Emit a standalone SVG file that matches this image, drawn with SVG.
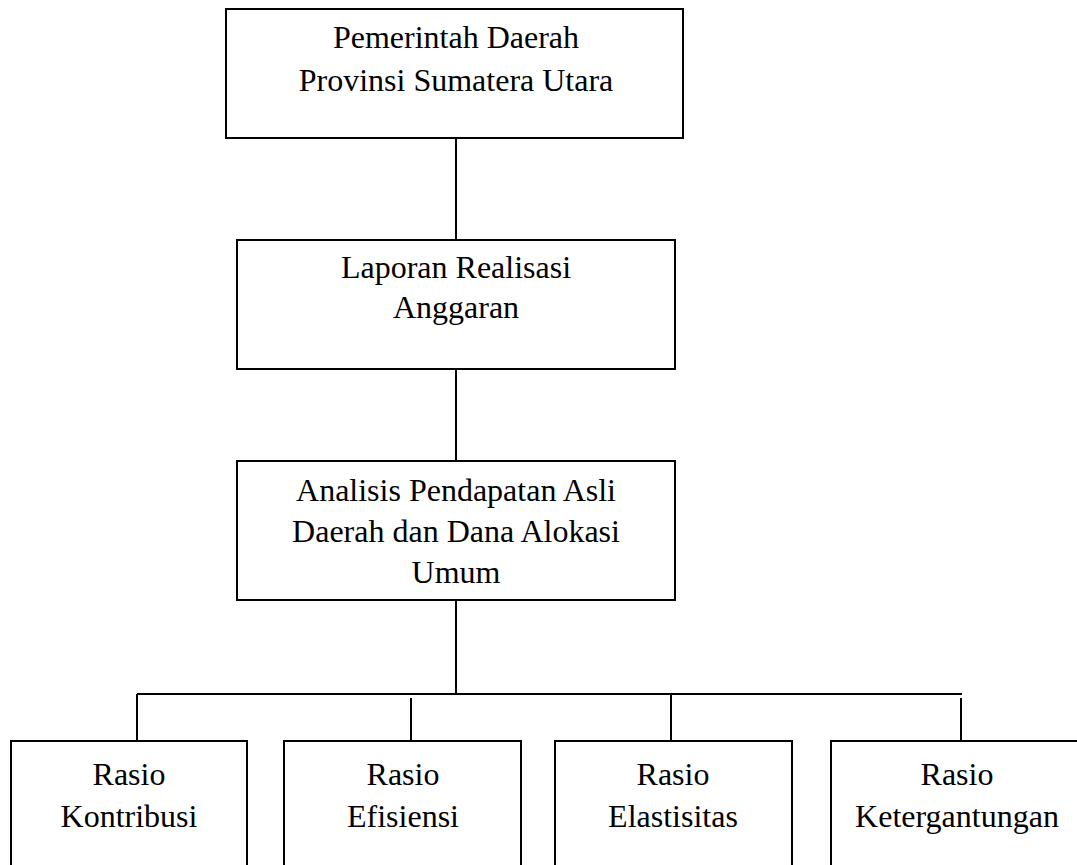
<svg xmlns="http://www.w3.org/2000/svg" width="1077" height="865" viewBox="0 0 1077 865">
<style>
.box{fill:#fff;stroke:#000;stroke-width:2}
.ln{stroke:#000;stroke-width:2;fill:none}
text{font-family:"Liberation Serif","Times New Roman",serif;font-size:32px;fill:#000;text-anchor:middle}
</style>
<rect width="1077" height="865" fill="#fff"/>
<g id="connectors">
<line class="ln" x1="456" y1="138" x2="456" y2="240"/>
<line class="ln" x1="456" y1="369" x2="456" y2="461"/>
<line class="ln" x1="456" y1="600" x2="456" y2="694"/>
<line class="ln" x1="137" y1="694" x2="962" y2="694"/>
<line class="ln" x1="137" y1="694" x2="137" y2="741"/>
<line class="ln" x1="411" y1="698" x2="411" y2="741"/>
<line class="ln" x1="671" y1="694" x2="671" y2="741"/>
<line class="ln" x1="961" y1="698" x2="961" y2="741"/>
</g>
<g id="n1"><rect class="box" x="226" y="9" width="457" height="129"/>
<text x="456" y="48">Pemerintah Daerah</text><text x="456" y="91">Provinsi Sumatera Utara</text></g>
<g id="n2"><rect class="box" x="237" y="240" width="438" height="129"/>
<text x="456" y="278">Laporan Realisasi</text><text x="456" y="318">Anggaran</text></g>
<g id="n3"><rect class="box" x="237" y="461" width="438" height="139"/>
<text x="456" y="501">Analisis Pendapatan Asli</text><text x="456" y="542">Daerah dan Dana Alokasi</text><text x="456" y="583">Umum</text></g>
<g id="n4"><rect class="box" x="11" y="741" width="236" height="140"/>
<text x="129" y="785">Rasio</text><text x="129" y="827">Kontribusi</text></g>
<g id="n5"><rect class="box" x="284" y="741" width="237" height="140"/>
<text x="403" y="785">Rasio</text><text x="403" y="827">Efisiensi</text></g>
<g id="n6"><rect class="box" x="555" y="741" width="237" height="140"/>
<text x="673" y="785">Rasio</text><text x="673" y="827">Elastisitas</text></g>
<g id="n7"><rect class="box" x="831" y="741" width="260" height="140"/>
<text x="957" y="785">Rasio</text><text x="957" y="827">Ketergantungan</text></g>
</svg>
